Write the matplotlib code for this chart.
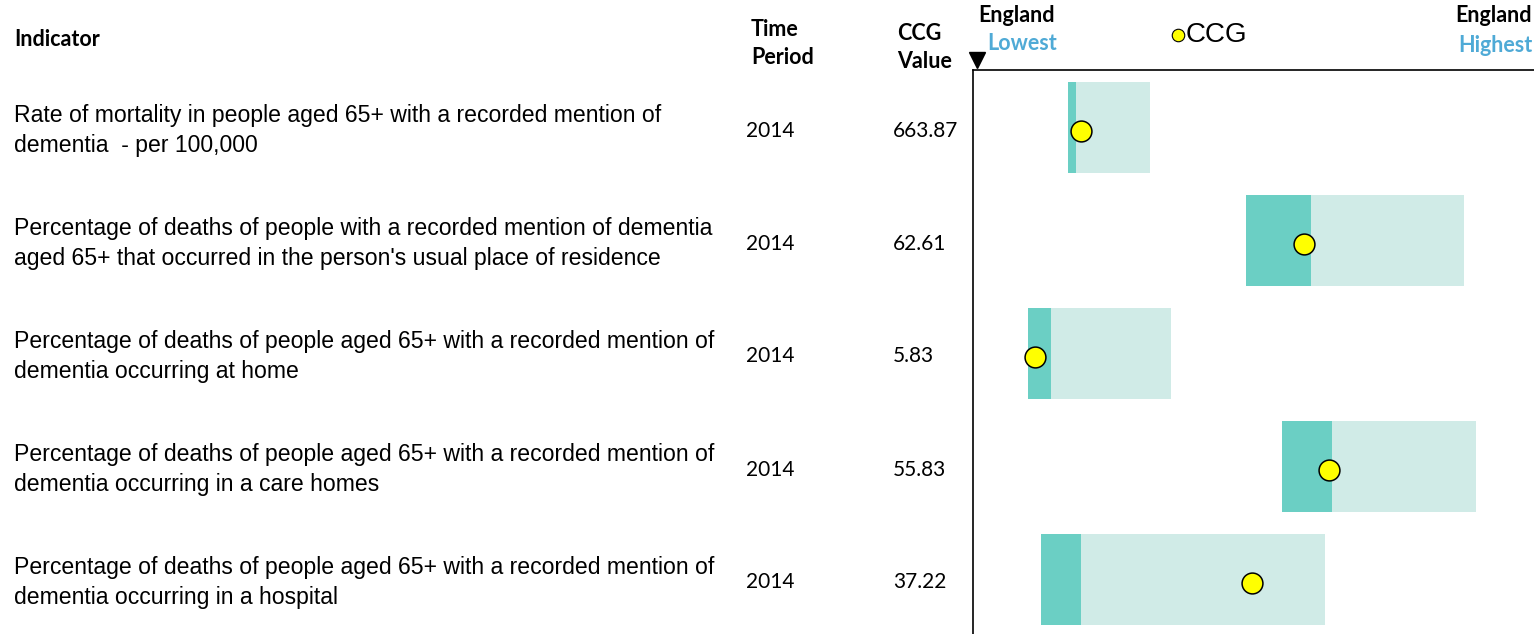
import matplotlib.pyplot as plt
from matplotlib.lines import Line2D

W, H = 1534, 634

indicators = [
    "Rate of mortality in people aged 65+ with a recorded mention of\ndementia  - per 100,000",
    "Percentage of deaths of people with a recorded mention of dementia\naged 65+ that occurred in the person's usual place of residence",
    "Percentage of deaths of people aged 65+ with a recorded mention of\ndementia occurring at home",
    "Percentage of deaths of people aged 65+ with a recorded mention of\ndementia occurring in a care homes",
    "Percentage of deaths of people aged 65+ with a recorded mention of\ndementia occurring in a hospital",
]
periods = ["2014", "2014", "2014", "2014", "2014"]
ccg_values = ["663.87", "62.61", "5.83", "55.83", "37.22"]

# positions on a 0-100 scale between England lowest and highest
band_start = [16.6, 47.7, 9.6, 54.0, 11.9]
band_mid = [18.0, 59.1, 13.6, 62.8, 18.9]
band_end = [30.9, 85.8, 34.6, 87.9, 61.5]
ccg_pos = [18.9, 57.9, 10.8, 62.2, 48.8]

DARK = "#6bcfc4"
LIGHT = "#d0ebe7"
BLUE = "#4faad6"
CAL = ["Lato", "DejaVu Sans"]
ARIAL = ["Liberation Sans", "DejaVu Sans"]
HDR = 15.5


def fx(px):
    return px / W


def fy(py):
    return 1 - py / H


fig = plt.figure(figsize=(W / 100, H / 100), dpi=100)

# headers
fig.text(fx(14), fy(40), "Indicator", family=CAL, weight="bold", fontsize=HDR, va="center")
fig.text(fx(751), fy(29), "Time", family=CAL, weight="bold", fontsize=HDR, va="center")
fig.text(fx(751), fy(58), "Period", family=CAL, weight="bold", fontsize=HDR, va="center")
fig.text(fx(897), fy(33), "CCG", family=CAL, weight="bold", fontsize=HDR, va="center")
fig.text(fx(897), fy(61), "Value", family=CAL, weight="bold", fontsize=HDR, va="center")
fig.text(fx(978), fy(16), "England", family=CAL, weight="bold", fontsize=HDR, va="center")
fig.text(fx(987), fy(44), "Lowest", family=CAL, weight="bold", fontsize=HDR, va="center", color=BLUE)
fig.text(fx(1532), fy(16), "England", family=CAL, weight="bold", fontsize=HDR,
         va="center", ha="right")
fig.text(fx(1532), fy(45), "Highest", family=CAL, weight="bold", fontsize=HDR,
         va="center", ha="right", color=BLUE)
fig.text(fx(1186), fy(35), "CCG", family=ARIAL, fontsize=20, va="center")
fig.add_artist(Line2D([fx(1178)], [fy(35)], marker="o", markersize=9,
                      markerfacecolor="#ffff00", markeredgecolor="black",
                      markeredgewidth=0.8, transform=fig.transFigure))
fig.add_artist(Line2D([fx(977)], [fy(60)], marker="v", markersize=11,
                      color="black", transform=fig.transFigure))

# table rows
for i, (ind, per, val) in enumerate(zip(indicators, periods, ccg_values)):
    y = 130.5 + 113 * i
    fig.text(fx(14), fy(y), ind, family=ARIAL, fontsize=16.6, va="center", linespacing=1.4)
    fig.text(fx(746), fy(y), per, family=CAL, fontsize=15, va="center")
    fig.text(fx(893), fy(y), val, family=CAL, fontsize=15, va="center")

# range chart
ax = fig.add_axes([fx(973), fy(650), fx(1545) - fx(973), fy(70) - fy(650)])
rows = list(range(len(indicators)))
ax.barh(rows, [e - s for s, e in zip(band_start, band_end)], left=band_start,
        height=0.8, color=LIGHT, zorder=1)
ax.barh(rows, [m - s for s, m in zip(band_start, band_mid)], left=band_start,
        height=0.8, color=DARK, zorder=2)
ax.plot(ccg_pos, [r + 0.035 for r in rows], "o", markersize=15,
        markerfacecolor="#ffff00", markeredgecolor="black", markeredgewidth=1.1,
        zorder=3)
ax.set_xlim(0, 100)
ax.set_ylim(4.624, -0.509)
ax.set_xticks([])
ax.set_yticks([])
for side in ["right", "bottom"]:
    ax.spines[side].set_visible(False)
for side in ["top", "left"]:
    ax.spines[side].set_linewidth(1.2)

fig.savefig("out.png", dpi=100)
